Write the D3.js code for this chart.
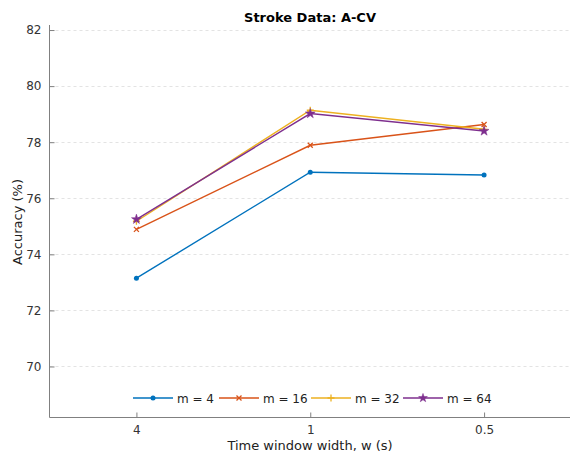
<!DOCTYPE html>
<html><head><meta charset="utf-8">
<script src="https://cdn.jsdelivr.net/npm/d3@7"></script>
<style>body{margin:0;background:#fff}svg{display:block}text{font-family:"DejaVu Sans",sans-serif}</style>
</head><body><svg id="c" width="570" height="454"></svg>
<script>
const categories = ["4", "1", "0.5"];
const seriesNames = ["m = 4", "m = 16", "m = 32", "m = 64"];
const m4 = [73.15, 76.93, 76.83];
const m16 = [74.89, 77.89, 78.63];
const m32 = [75.18, 79.14, 78.46];
const m64 = [75.25, 79.02, 78.40];
const yTicks = [70, 72, 74, 76, 78, 80, 82];
const colors = ["#0072BD", "#D95319", "#EDB120", "#7E2F8E"];
const markers = ["dot", "x", "plus", "star"];
const values = [m4, m16, m32, m64];

const svg = d3.select("#c");
const L = 49.5, R = 571, T = 25, B = 417.5;
const x = d3.scalePoint().domain(categories).range([L, R]).padding(0.5);
const y = d3.scaleLinear().domain([68.18, 82.18]).range([B, T]);

// gridlines
svg.append("g").selectAll("line").data(yTicks).join("line")
  .attr("x1", L).attr("x2", 570).attr("y1", d => Math.round(y(d)) + 0.5).attr("y2", d => Math.round(y(d)) + 0.5)
  .attr("stroke", "#e3e3e3").attr("stroke-width", 1).attr("stroke-dasharray", "3,3");

// y axis
const ya = svg.append("g").attr("transform", `translate(${L},0)`)
  .call(d3.axisLeft(y).tickValues(yTicks).tickSize(-5).tickPadding(8).tickFormat(d3.format("d")));
ya.select(".domain").attr("stroke", "#808080").attr("d", `M0,${T}V${B}`);
ya.selectAll(".tick line").attr("stroke", "#808080");
ya.selectAll(".tick text").attr("fill", "#333").style("font-size", "12px").style("font-family", "DejaVu Sans");

// x axis
const xa = svg.append("g").attr("transform", `translate(0,${B})`)
  .call(d3.axisBottom(x).tickSize(-5).tickPadding(8));
xa.select(".domain").attr("stroke", "#808080").attr("d", `M${L},0H570`);
xa.selectAll(".tick line").attr("stroke", "#808080");
xa.selectAll(".tick text").attr("fill", "#333").style("font-size", "12px").style("font-family", "DejaVu Sans");

// title & labels
svg.append("text").attr("x", 310).attr("y", 22).attr("text-anchor", "middle")
  .style("font-size", "13px").style("font-weight", "bold").attr("fill", "#000").text("Stroke Data: A-CV");
svg.append("text").attr("x", 310).attr("y", 450).attr("text-anchor", "middle")
  .style("font-size", "13px").attr("fill", "#222").text("Time window width, w (s)");
svg.append("text").attr("transform", "translate(22,222) rotate(-90)").attr("text-anchor", "middle")
  .style("font-size", "13px").attr("fill", "#222").text("Accuracy (%)");

function drawMarker(g, type, cx, cy, color, starSize) {
  if (type === "dot") {
    g.append("circle").attr("cx", cx).attr("cy", cy).attr("r", 2.5).attr("fill", color);
  } else if (type === "x") {
    const s = 2.5;
    g.append("path").attr("d", `M${cx-s},${cy-s}L${cx+s},${cy+s}M${cx-s},${cy+s}L${cx+s},${cy-s}`)
      .attr("stroke", color).attr("stroke-width", 1.3).attr("fill", "none");
  } else if (type === "plus") {
    const s = 3.5;
    g.append("path").attr("d", `M${cx-s},${cy}L${cx+s},${cy}M${cx},${cy-s}L${cx},${cy+s}`)
      .attr("stroke", color).attr("stroke-width", 1.3).attr("fill", "none");
  } else {
    g.append("path").attr("d", d3.symbol(d3.symbolStar, starSize)()).attr("transform", `translate(${cx},${cy})`)
      .attr("fill", color).attr("stroke", color).attr("stroke-width", 0.5);
  }
}

const line = d3.line().x((d, i) => x(categories[i])).y(d => y(d));
values.forEach((vals, si) => {
  const g = svg.append("g");
  g.append("path").attr("d", line(vals)).attr("fill", "none").attr("stroke", colors[si]).attr("stroke-width", 1.4);
  vals.forEach((v, i) => drawMarker(g, markers[si], x(categories[i]), y(v), colors[si], 30));
});

// legend
const legX = [133, 219, 311, 403];
const legY = 398;
seriesNames.forEach((n, i) => {
  const g = svg.append("g");
  g.append("line").attr("x1", legX[i]).attr("x2", legX[i] + 40).attr("y1", legY).attr("y2", legY)
    .attr("stroke", colors[i]).attr("stroke-width", 1.4);
  drawMarker(g, markers[i], legX[i] + 20, legY, colors[i], 24);
  g.append("text").attr("x", legX[i] + 44).attr("y", legY + 4.5).style("font-size", "12px").attr("fill", "#222").text(n);
});
</script></body></html>
